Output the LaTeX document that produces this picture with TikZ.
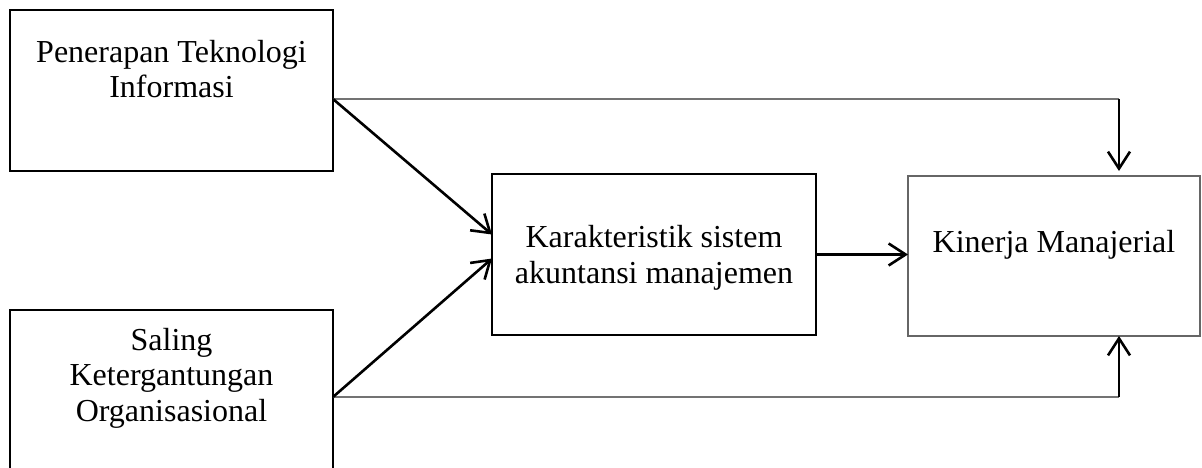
\documentclass[tikz,border=0pt]{standalone}
\usepackage{fontspec}
\setmainfont{Liberation Serif}
\usetikzlibrary{arrows.meta,calc}
\begin{document}
\begin{tikzpicture}[x=1pt,y=-1pt,
  box/.style={draw=black, line width=2.4pt, inner sep=0pt, outer sep=0pt},
  thinbox/.style={draw=black!60, line width=1.4pt, inner sep=0pt, outer sep=0pt},
  lbl/.style={font=\fontsize{32}{35.5}\selectfont, align=center, inner sep=0pt, anchor=base},
  arr/.style={line width=2.6pt, -{Straight Barb[length=17pt,width=22pt,line width=2.6pt]}},
  thinline/.style={draw=black!55, line width=1.4pt}]
\useasboundingbox (0,0) rectangle (1202,468);
\clip (0,0) rectangle (1202,468);
% boxes
\node[box, minimum width=323pt, minimum height=161pt] (pti) at (171.5,90.5) {};
\node[box, minimum width=323pt, minimum height=200pt] (sko) at (171.5,410) {};
\node[box, minimum width=324pt, minimum height=161pt] (ksam) at (654,254.5) {};
\node[thinbox, minimum width=292pt, minimum height=160pt] (km) at (1054,256) {};
% labels (anchor base = baseline of last line)
\node[lbl] (t1) at (171.5,98) {Penerapan Teknologi\\Informasi};
\node[lbl] (t2) at (171.5,421) {Saling\\Ketergantungan\\Organisasional};
\node[lbl] (t3) at (654,283) {Karakteristik sistem\\akuntansi manajemen};
\node[lbl] (t4) at (1054,252) {Kinerja Manajerial};
% corner coordinates
\coordinate (c1) at (1119,99);
\coordinate (c2) at (1119,397);
% connectors
\draw[thinline] (pti.east |- c1) -- (c1);
\draw[arr, shorten >=5pt] (c1) -- (km.north -| c1);
\draw[thinline] (sko.east |- c2) -- (c2);
\draw[arr] (c2) -- (km.south -| c2);
\draw[arr] (pti.east |- c1) -- ($(ksam.west)+(0,-20)$);
\draw[arr] (sko.east |- c2) -- ($(ksam.west)+(0,4)$);
\draw[arr] (ksam.east) -- (ksam.east -| km.west);
\end{tikzpicture}
\end{document}
